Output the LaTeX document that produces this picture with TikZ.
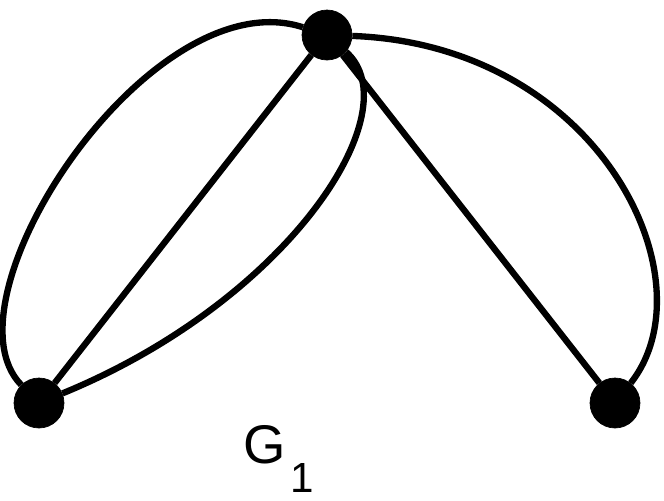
\documentclass[tikz,border=0pt]{standalone}
\usepackage{fontspec}
\setmainfont{Liberation Sans}
\usetikzlibrary{positioning}

\begin{document}
\begin{tikzpicture}[
  x=0.02cm, y=-0.02cm,
  vertex/.style={draw, circle, fill=black, minimum size=1.0cm, inner sep=0pt},
  edge/.style={line width=3.6pt}
]
\useasboundingbox (0,0) rectangle (664,501);
%% vertices
\node[vertex] (top) at (327,35) {};
\node[vertex] (lft) at (39,403) {};
\node[vertex] (rgt) at (615,403) {};
%% edges top -- left
\draw[edge] (top) -- (lft);
\draw[edge] (top) .. controls (150,-22) and (-62,300) .. (lft);
\draw[edge] (top) .. controls (412,110) and (290,300) .. (lft);
%% edges top -- right
\draw[edge] (top) -- (rgt);
\draw[edge] (top) .. controls (600,45) and (712,280) .. (rgt);
%% label
\node[anchor=base west, inner sep=0pt, font=\fontsize{31}{31}\selectfont] (name) at (243,463)
  {G\hspace{3pt}\raisebox{-17pt}{\fontsize{24}{24}\selectfont 1}};
\end{tikzpicture}
\end{document}
